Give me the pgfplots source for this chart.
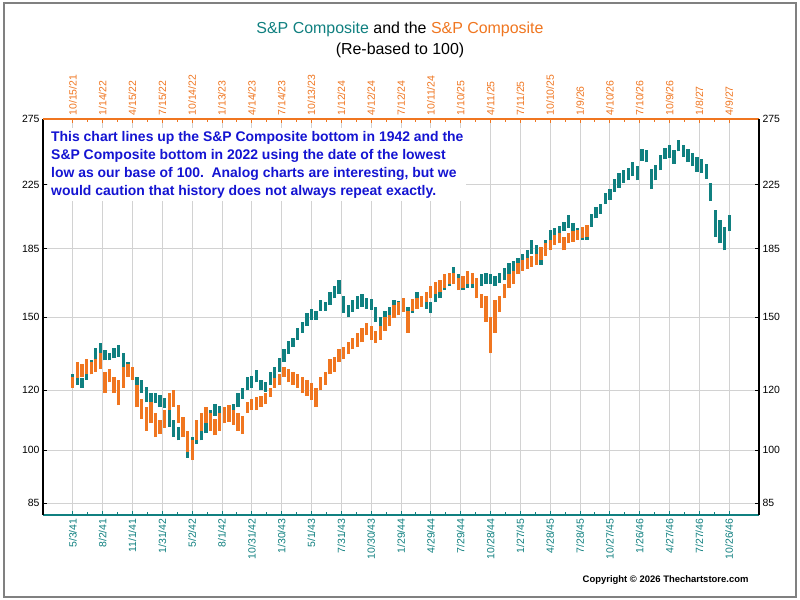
\documentclass[border=0pt]{standalone}
\usepackage{fontspec}
\setmainfont{Liberation Sans}
\usepackage{pgfplots}
\pgfplotsset{compat=1.18}
\usepackage{pgfplotstable}
\definecolor{spteal}{RGB}{16,128,128}
\definecolor{sporange}{RGB}{240,118,32}
\definecolor{boxblue}{RGB}{20,20,210}
\definecolor{gridgray}{RGB}{210,210,210}

\pgfplotstableread{
w lo hi
0 121 126
2 122 127
4 121 124.5
6 124 128
8 126 131.5
10 131.5 136.5
12 133.5 138.6
14 131.5 135.6
16 131.5 134.5
18 132.3 136.5
20 133 137.7
22 128.8 134.4
24 126.4 130.7
26 123.8 127.6
28 120.8 124.9
30 119 123.8
32 115.7 121.2
34 114.7 119
36 115.4 119
38 114 118.3
40 113.7 117.1
42 107.3 113
44 104 109.6
46 103 107.3
48 104 108.6
50 97.6 103
52 100 104
54 102 106.3
56 103 107.3
58 105.3 109.6
60 108 113
62 111 115
64 110.5 114.5
66 110 113.5
68 110 114
70 111 115
72 114 119
74 117 121
76 120 125
78 121 125.5
80 123 127.6
82 120 124
84 119.5 123
86 122 127
88 124 129
90 127 132.5
92 131 136
94 134 139.5
96 137 141
98 140 145
100 143 148
102 146 152
104 149 154
106 149 153
108 153 158
110 153 157
112 156 162
114 159 165
116 161 168
118 152 160
120 150 156
122 152.5 158
124 154 160
126 155 161
128 154 159
130 153.5 158.5
132 148 155
134 143 150
136 147 153
138 150 155
140 153 158
142 152 157.5
144 153 158
146 150 155
148 152 157
150 156 162
152 155 160
154 154 159
156 152 157
158 157 162
160 159 164
162 163 168
164 165 170
166 169 175
168 165 171
170 163 168
172 164 170
174 164 169
176 160 166
178 165 171
180 166 172
182 166 171
184 165 170
186 166.5 172
188 168 174.5
190 171 177
192 173 178
194 174.5 180
196 176 182
198 178 184
200 182 190
202 180 187
204 176 184
206 184 190
208 190 196
210 192 197
212 193 198.6
214 195 201
216 197 205
218 193 200
220 191 197
222 190 195.5
224 190 196
226 198 206
228 203 210
230 206 212
232 212 219
234 215 222
236 220 229
238 223 233
240 226 235
242 228 237
244 231 241
246 228 238
248 242 251
250 241 250
252 222 236
254 228 239
256 235 246
258 243 252
260 244 254
262 240 250
264 249 258
266 245 254
268 241 251
270 238 248
272 234 245
274 233 243
276 229 240
278 214 226
280 192 208
282 188 202
284 184 198
286 195 205
}\dataA

\pgfplotstableread{
w lo hi
0 121 125
2 124.5 131
4 125 130
6 126 132
8 126 131
10 127 132
12 128 134.5
14 119 127
16 123 128
18 119 125
20 114.7 124
22 121 129
24 125 130
26 124 129
28 114 122
30 110 117
32 106 114
34 108.6 115.7
36 104 112
38 105 109.6
40 107 113
42 113 119
44 114 120
46 108.6 114.7
48 104 110.6
50 99.4 106
52 97 103
54 103 109.6
56 106 112
58 108.6 114
60 106 112
62 104.6 110
64 106 112
66 108.6 114
68 109 114.7
70 108 113
72 106 112
74 105 111
76 112 115.7
78 113 117
80 113 117.5
82 114 118
84 115 119
86 117.5 121
88 121 124.5
90 122 126
92 125 129
94 123 128
96 122 127
98 121 126
100 119 125
102 118 124
104 116.5 122.7
106 114 121
108 120 125
110 122 127
112 126 132
114 127 133
116 131 136
118 132 137
120 134 139
122 136 141
124 137 143
126 139 145
128 142 147.5
130 140 146
132 138.6 144
134 140 146
136 144 150
138 146 151
140 149.5 155.6
142 151 157
144 152.5 159
146 143 153
148 153 158.5
150 154 159
152 155 160
154 157 162
156 159 165
158 161 167
160 162 168
162 164 171
164 166 172
166 166 172
168 163 169
170 164 170
172 166 173
174 166 172
176 159 169
178 154.5 161
180 148 160
182 134.5 150
184 143 158
186 152.5 160
188 159 166
190 164 171
192 166 173
194 171 177
196 173 179
198 174 180
200 175 181
202 176 182
204 179 186
206 181 188
208 184 190
210 187 193
212 188 194
214 184 192
216 188 194
218 189 195
220 190 196
222 191 198
224 192 199
}\dataB

\pgfplotsset{
  myaxis/.style={
    scale only axis, width=716bp, height=396bp,
    xmin=-13, xmax=299, ymin=82, ymax=275,
    xtick={0,13,...,286},
    ytick={85,100,120,150,185,225,275},
    yticklabels={85,100,120,150,185,225,275},
    minor x tick num=1, yminorticks=false,
    tick align=inside,
    major tick length=4bp, minor tick length=3bp,
    tick label style={font=\fontsize{10.5}{12}\selectfont},
    y tick style={black, line width=0.8bp},
  },
}

\begin{document}
\begin{tikzpicture}[x=1bp,y=1bp]
\useasboundingbox (0,0) rectangle (800,600);
\fill[white] (0,0) rectangle (800,600);
\draw[gray, line width=1.3bp] (4,3) rectangle (796,597);

\begin{semilogyaxis}[myaxis, at={(43bp,85bp)}, anchor=south west,
  axis x line*=bottom, axis y line*=left,
  x axis line style={spteal, line width=1.6bp, -},
  y axis line style={black, line width=1.6bp, -},
  x tick style={spteal, line width=0.9bp},
  xticklabels={5/3/41,8/2/41,11/1/41,1/31/42,5/2/42,8/1/42,10/31/42,1/30/43,5/1/43,7/31/43,10/30/43,1/29/44,4/29/44,7/29/44,10/28/44,1/27/45,4/28/45,7/28/45,10/27/45,1/26/46,4/27/46,7/27/46,10/26/46},
  x tick label style={rotate=90, anchor=east, text=spteal},
  grid=major, major grid style={gridgray, line width=0.9bp},
]
\addplot[draw=none, mark=none,
  error bars/.cd, y dir=plus, y explicit, error mark=none,
  error bar style={draw=spteal, line width=3.3bp}]
  table[x=w, y=lo, y error plus expr=\thisrow{hi}-\thisrow{lo}] {\dataA};
\addplot[draw=none, mark=none,
  error bars/.cd, y dir=plus, y explicit, error mark=none,
  error bar style={draw=sporange, line width=3.3bp}]
  table[x=w, y=lo, y error plus expr=\thisrow{hi}-\thisrow{lo}] {\dataB};
\end{semilogyaxis}

\begin{semilogyaxis}[myaxis, at={(43bp,85bp)}, anchor=south west,
  axis x line*=top, axis y line*=right,
  x axis line style={sporange, line width=1.6bp, -},
  y axis line style={black, line width=1.6bp, -},
  x tick style={sporange, line width=0.9bp},
  xticklabels={10/15/21,1/14/22,4/15/22,7/15/22,10/14/22,1/13/23,4/14/23,7/14/23,10/13/23,1/12/24,4/12/24,7/12/24,10/11/24,1/10/25,4/11/25,7/11/25,10/10/25,1/9/26,4/10/26,7/10/26,10/9/26,1/8/27,4/9/27},
  x tick label style={rotate=90, anchor=west, text=sporange},
]
\addplot[draw=none, mark=none] coordinates {(0,100)};
\end{semilogyaxis}

\node[anchor=north west, fill=white, inner sep=3bp, align=left, text=boxblue,
  font=\bfseries\fontsize{14}{18}\selectfont] at (48,472)
  {This chart lines up the S\&P Composite bottom in 1942 and the\\
   S\&P Composite bottom in 2022 using the date of the lowest\\
   low as our base of 100.\ \ Analog charts are interesting, but we\\
   would caution that history does not always repeat exactly.};

\node[font=\fontsize{16}{19}\selectfont] at (400,571)
  {\textcolor{spteal}{S\&P Composite} and the \textcolor{sporange}{S\&P Composite}};
\node[font=\fontsize{16}{19}\selectfont] at (400,550) {(Re-based to 100)};
\node[anchor=east, font=\bfseries\fontsize{9.5}{11}\selectfont] at (752,20)
  {Copyright \textcopyright{} 2026 Thechartstore.com};
\end{tikzpicture}
\end{document}
